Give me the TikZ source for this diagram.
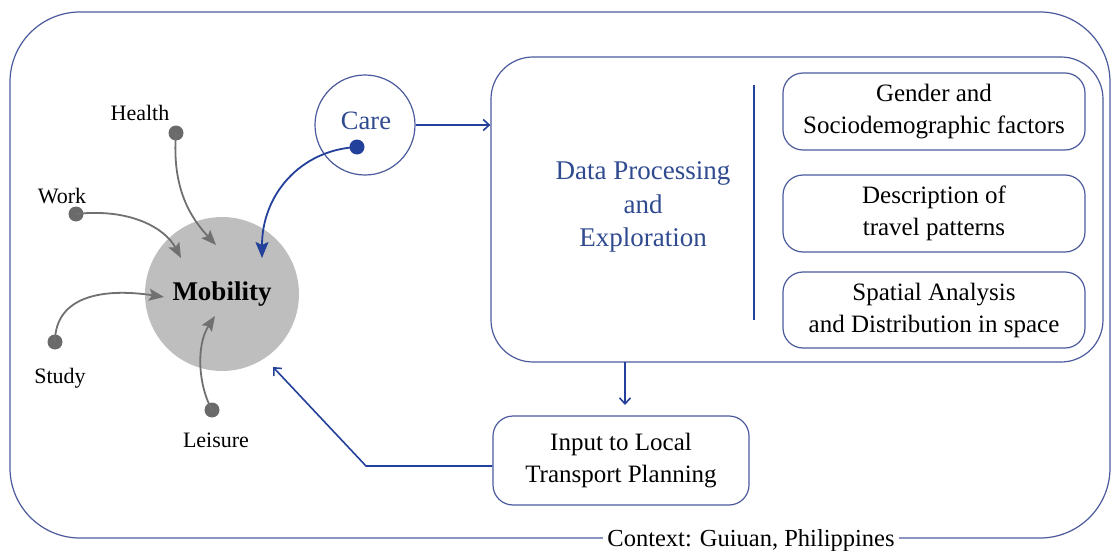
\documentclass[tikz,border=0pt]{standalone}
\usepackage{fontspec}
\setmainfont{Liberation Serif}
\usetikzlibrary{arrows.meta}
\definecolor{framec}{HTML}{4A5A9C}
\definecolor{arrowc}{HTML}{23409A}
\definecolor{textb}{HTML}{2F4A8F}
\definecolor{dotg}{HTML}{6A6A6A}
\definecolor{arrg}{HTML}{707070}
\definecolor{mobg}{HTML}{BEBEBE}
\tikzset{
  frame/.style={draw=framec, line width=1.2pt},
  boxc/.style={frame, rounded corners=20pt, align=center, inner sep=0pt,
    font=\fontsize{25}{32}\selectfont},
  lbl/.style={font=\fontsize{22}{26}\selectfont, inner sep=1pt},
  gdot/.style={circle, fill=dotg, minimum size=15pt, inner sep=0pt},
  garrow/.style={draw=arrg, line width=1.8pt, -{Stealth[length=15pt,width=12pt,inset=3pt]}},
  barrow/.style={draw=arrowc, line width=1.6pt, -{Straight Barb[length=6pt,width=11pt]}},
}
\begin{document}
\begin{tikzpicture}[x=1pt,y=-1pt]
\useasboundingbox (0,0) rectangle (1112,551);
% outer frame
\draw[frame, rounded corners=70pt] (10,12) rectangle (1110,538);
\node[fill=white, inner sep=4pt, font=\fontsize{24.5}{28}\selectfont] (ctx) at (751,541) {Context: Guiuan, Philippines};

% big box
\node[frame, rounded corners=42pt, minimum width=612pt, minimum height=305pt, inner sep=0pt] (big) at (797,209.5) {};
\node[font=\fontsize{27}{33.5}\selectfont, text=textb, align=center] (dp) at (643,207) {Data Processing\\and\\Exploration};
\coordinate (vt) at (754,85);
\coordinate (vb) at (754,320);
\draw[draw=arrowc, line width=1.8pt] (vt) -- (vb);

\node[boxc, minimum width=302pt, minimum height=77pt] (b1) at (934,111.5) {Gender and\\Sociodemographic factors};
\node[boxc, minimum width=302pt, minimum height=77pt] (b2) at (934,213.5) {Description of\\travel patterns};
\node[boxc, minimum width=302pt, minimum height=76pt] (b3) at (934,310) {Spatial Analysis\\and Distribution in space};

% input box
\node[boxc, minimum width=256pt, minimum height=89pt] (inp) at (621,460.5) {Input to Local\\Transport Planning};

% mobility
\node[circle, fill=mobg, minimum size=154pt, inner sep=0pt, font=\bfseries\fontsize{27}{30}\selectfont] (mob) at (222,294) {Mobility};

% care
\node[circle, frame, minimum size=100pt, inner sep=0pt] (care) at (365,125) {};
\node[text=textb, font=\fontsize{26.5}{30}\selectfont, inner sep=0pt] (caret) at (366,121) {Care};
\node[circle, fill=arrowc, minimum size=15pt, inner sep=0pt] (cdot) at (357,147) {};

% gray dots and labels
\node[gdot] (dh) at (176,133) {};
\node[gdot] (dw) at (76,214) {};
\node[gdot] (ds) at (55,342) {};
\node[gdot] (dl) at (212,410) {};
\node[lbl] (lh) at (140,113) {Health};
\node[lbl] (lw) at (62,196) {Work};
\node[lbl] (ls) at (60,378) {Study};
\node[lbl] (ll) at (216,440) {Leisure};

\coordinate (th) at (216,245);
\coordinate (tw) at (181,258);
\coordinate (ts) at (164,297);
\coordinate (tl) at (215,316);
\draw[garrow] (dh.center) .. controls (172,185) and (188,215) .. (th);
\draw[garrow] (dw.center) .. controls (130,208) and (165,228) .. (tw);
\draw[garrow] (ds.center) .. controls (55,295) and (105,288) .. (ts);
\draw[garrow] (dl.center) .. controls (198,385) and (196,345) .. (tl);

% care arrow to mobility
\coordinate (tc) at (262,258);
\draw[draw=arrowc, line width=1.8pt, -{Stealth[length=16pt,width=13pt,inset=3pt]}] (cdot.center) .. controls (300,150) and (262,195) .. (tc);

% care to big box
\draw[barrow] (care.east) -- (big.west |- care.east);
% big box to input
\draw[barrow] (625,362) -- (625,405);
% feedback
\coordinate (fb) at (366,466);
\coordinate (fm) at (273,367);
\draw[barrow] (inp.west |- fb) -- (fb) -- (fm);
\end{tikzpicture}
\end{document}
